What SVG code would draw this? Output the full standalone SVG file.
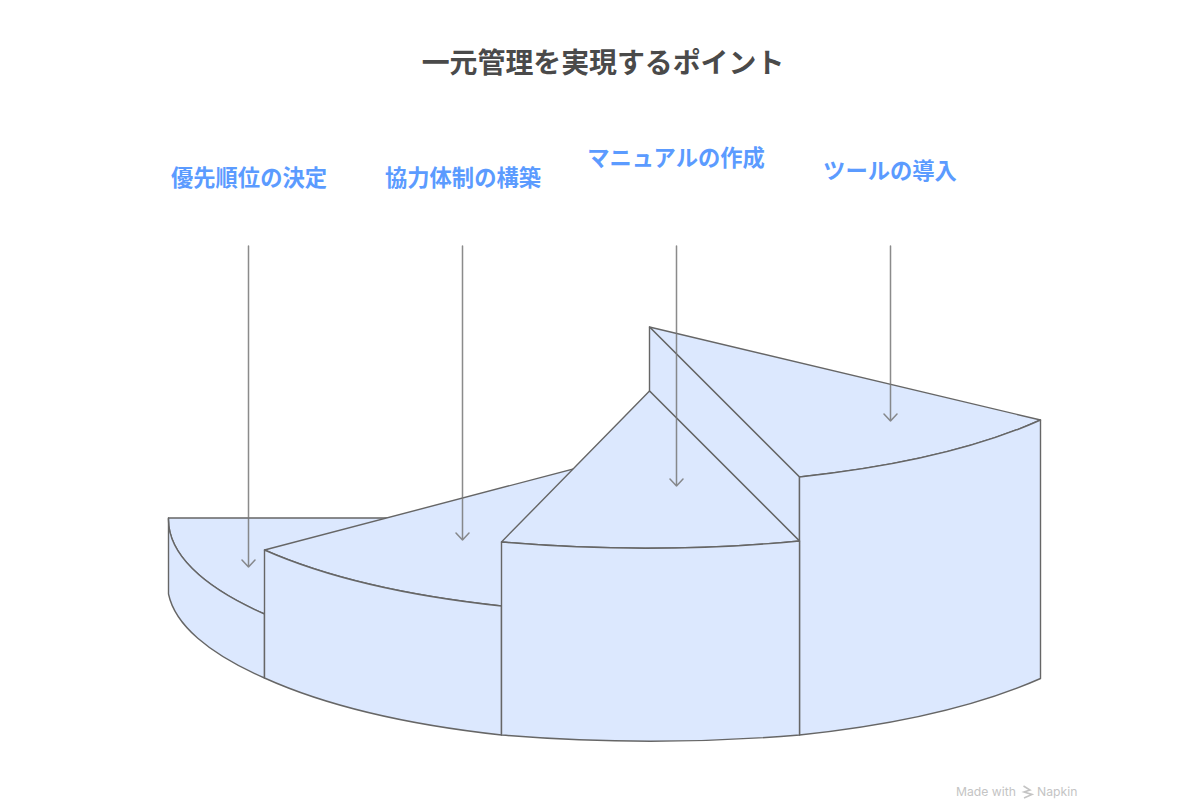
<svg xmlns="http://www.w3.org/2000/svg" width="1200" height="800" viewBox="0 0 1200 800">
<style>
.f{fill:#dce8fe;stroke:#666;stroke-width:1.4;stroke-linejoin:round}
.a{fill:none;stroke:#777;stroke-opacity:.85;stroke-width:1.5;stroke-linecap:round;stroke-linejoin:round}
.l{font-family:"Noto Sans CJK JP","Liberation Sans",sans-serif;font-weight:700;font-size:22.3px;fill:#5b9bff;text-anchor:middle}
.t{font-family:"Noto Sans CJK JP","Liberation Sans",sans-serif;font-weight:700;font-size:27.9px;fill:#4a4a4a;text-anchor:middle}
.m{font-family:Inter,"Liberation Sans",sans-serif;font-size:12.2px;fill:#c4c4c4}
</style>
<rect width="1200" height="800" fill="#fff"/>
<text class="t" x="603" y="73">一元管理を実現するポイント</text>
<g id="step1">
<path class="f" d="M168.500 518 L649.500 518 L264.500 614 A483 157.500 0 0 1 168.500 518Z"/>
<path class="f" d="M168.500 518 A483 157.500 0 0 0 264.500 614 V678 A483 157.500 0 0 1 168.500 594Z"/>
</g>
<g id="step2">
<path class="f" d="M649.500 449 L264.500 550 A483 157.500 0 0 0 501.500 606Z"/>
<path class="f" d="M264.500 550 A483 157.500 0 0 0 501.500 606 V735 A483 157.500 0 0 1 264.500 678Z"/>
</g>
<g id="step4">
<path class="f" d="M649.500 327 L1040.500 420 A483 157.500 0 0 1 799.500 477Z"/>
<path class="f" d="M649.500 327 L799.500 477 V541 L649.500 391Z"/>
<path class="f" d="M799.500 477 A483 157.500 0 0 0 1040.500 420 V678.500 A483 157.500 0 0 1 799.500 735Z"/>
</g>
<g id="step3">
<path class="f" d="M649.500 391 L799.500 541 A483 135 0 0 1 501.500 542Z"/>
<path class="f" d="M501.500 542 A483 135 0 0 0 799.500 541 V735 A483 125 0 0 1 501.500 735Z"/>
</g>
<g id="connectors">
<path class="a" d="M248.500 246 V567 M242 560 L248.500 567 L255 560"/>
<path class="a" d="M462.500 246 V540 M456 533 L462.500 540 L469 533"/>
<path class="a" d="M676.500 246 V486 M670 479 L676.500 486 L683 479"/>
<path class="a" d="M890.500 246 V421 M884 414 L890.500 421 L897 414"/>
</g>
<g id="label1"><text class="l" x="249" y="186">優先順位の決定</text></g>
<g id="label2"><text class="l" x="463" y="186">協力体制の構築</text></g>
<g id="label3"><text class="l" x="676" y="166">マニュアルの作成</text></g>
<g id="label4"><text class="l" x="890" y="179">ツールの導入</text></g>
<g id="watermark">
<text class="m" x="956" y="796">Made with</text>
<path d="M1023.500 786 L1030 790 L1024 792 L1032 794.500 L1024 798" fill="none" stroke="#c4c4c4" stroke-width="1.6"/>
<text class="m" x="1037" y="796">Napkin</text>
</g>
</svg>
